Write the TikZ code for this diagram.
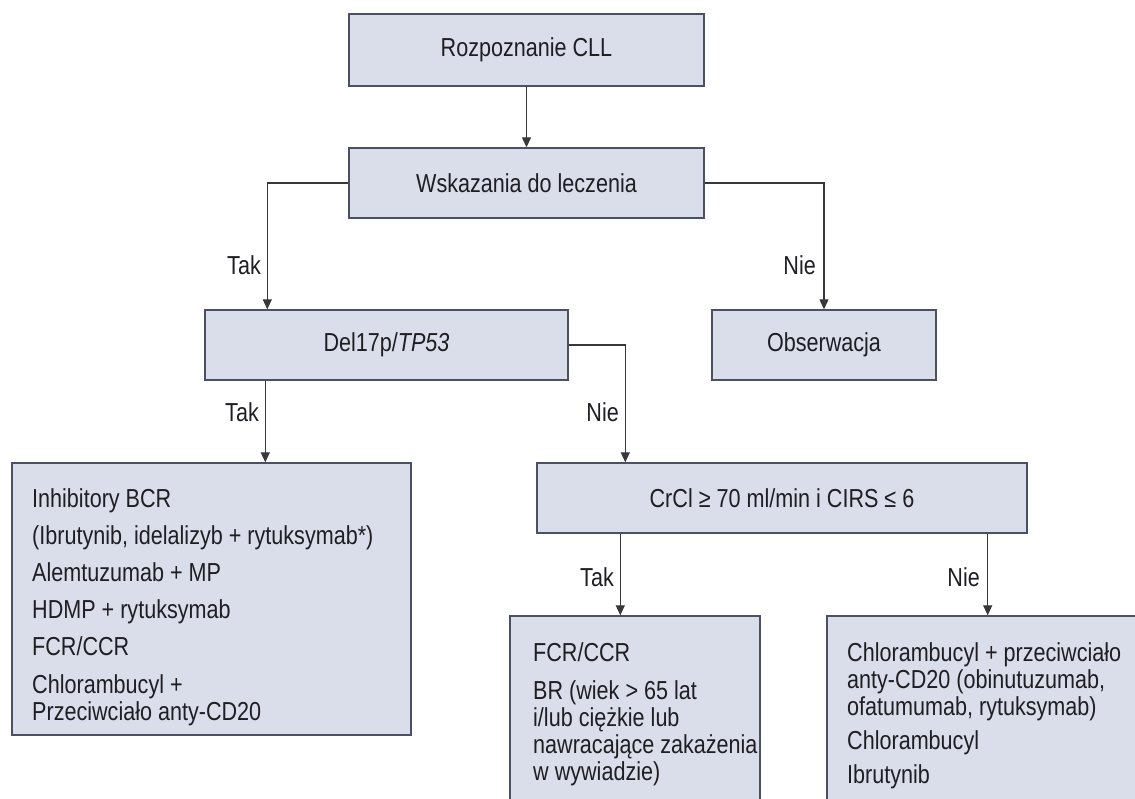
\documentclass[tikz,border=0pt]{standalone}
\usepackage{fontspec}
\setmainfont{Liberation Sans}[FakeStretch=0.83]
\usetikzlibrary{arrows.meta,calc}
\definecolor{boxfill}{RGB}{217,222,234}
\definecolor{boxline}{RGB}{75,80,100}
\definecolor{conn}{RGB}{55,55,60}
\definecolor{txt}{RGB}{30,30,35}
\tikzset{
  box/.style={draw=boxline, fill=boxfill, line width=1.4pt, inner sep=0pt, text=txt},
  arr/.style={draw=conn, line width=1.3pt, -{Triangle[width=9pt,length=10pt]}},
  lbl/.style={text=txt, inner sep=0pt},
  body/.style={text=txt, inner sep=0pt, align=left, anchor=north west},
}
\begin{document}
\begin{tikzpicture}[x=1pt,y=-1pt,font=\fontsize{26}{27}\selectfont]
\useasboundingbox (0,0) rectangle (1135,798);
\fill[white] (0,0) rectangle (1135,798);
\clip (0,0) rectangle (1135,798);

\node[box, minimum width=355pt, minimum height=72pt] (rozp) at (526.5,50) {Rozpoznanie CLL};
\node[box, minimum width=355pt, minimum height=70pt] (wsk) at (526.5,183) {Wskazania do leczenia};
\node[box, minimum width=363pt, minimum height=70pt] (del) at (386.5,345) {Del17p/\textit{TP53}};
\node[box, minimum width=224pt, minimum height=70pt] (obs) at (824,345) {Obserwacja};
\node[box, minimum width=399pt, minimum height=272pt] (inh) at (211.5,599) {};
\node[box, minimum width=490pt, minimum height=70pt] (crcl) at (782,498) {CrCl ≥ 70 ml/min i CIRS ≤ 6};
\node[box, minimum width=250pt, minimum height=234pt] (fcr) at (635,733) {};
\node[box, minimum width=333pt, minimum height=234pt] (rb) at (993.5,733) {};

\node[body] (inht) at (32,488)
  {Inhibitory BCR\\[10pt]
   (Ibrutynib, idelalizyb + rytuksymab*)\\[10pt]
   Alemtuzumab + MP\\[10pt]
   HDMP + rytuksymab\\[10pt]
   FCR/CCR\\[11pt]
   Chlorambucyl +\\
   Przeciwciało anty-CD20};
\node[body] (fcrt) at (533,642)
  {FCR/CCR\\[11pt]
   BR (wiek > 65 lat\\
   i/lub ciężkie lub\\
   nawracające zakażenia\\
   w wywiadzie)};
\node[body] (rbt) at (847,642)
  {Chlorambucyl + przeciwciało\\
   anty-CD20 (obinutuzumab,\\
   ofatumumab, rytuksymab)\\[7pt]
   Chlorambucyl\\[7pt]
   Ibrutynib};

\draw[arr] (rozp) -- (wsk);
\draw[arr] (wsk.west) -| ([xshift=63pt]del.north west);
\draw[arr] (wsk.east) -| (obs.north);
\draw[arr] ([xshift=61pt]del.south west) -- ([xshift=61pt]del.south west |- inh.north);
\draw[arr] (del.east) -| ([xshift=89pt]crcl.north west);
\draw[arr] ([xshift=84pt]crcl.south west) -- ([xshift=84pt]crcl.south west |- fcr.north);
\draw[arr] ([xshift=-40pt]crcl.south east) -- ([xshift=-40pt]crcl.south east |- rb.north);

\node[lbl, anchor=east] (tak1) at (261,265) {Tak};
\node[lbl, anchor=east] (nie1) at (816,265) {Nie};
\node[lbl, anchor=east] (tak2) at (259,412) {Tak};
\node[lbl, anchor=east] (nie2) at (619,412) {Nie};
\node[lbl, anchor=east] (tak3) at (614,577) {Tak};
\node[lbl, anchor=east] (nie3) at (980,577) {Nie};
\end{tikzpicture}
\end{document}
